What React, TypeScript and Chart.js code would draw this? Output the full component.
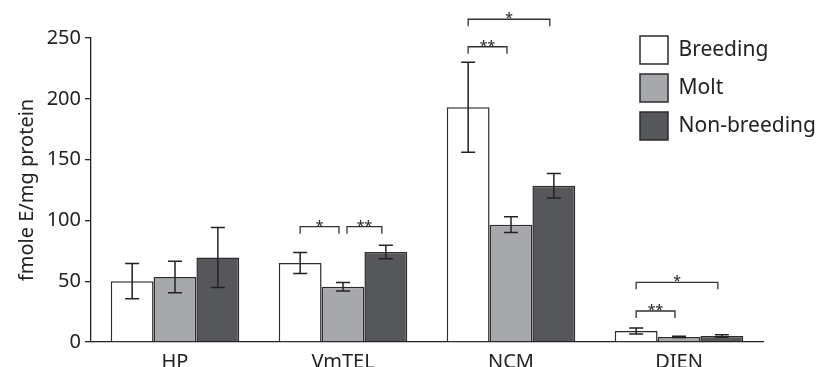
import React, { useEffect, useRef } from "react";
import { Chart, registerables } from "chart.js";

Chart.register(...registerables);

const categories = ["HP", "VmTEL", "NCM", "DIEN"];
const seriesNames = ["Breeding", "Molt", "Non-breeding"];
const breeding = [50, 65, 193, 9];
const breedingErr = [14.5, 8.7, 37, 2.5];
const molt = [53.5, 45.5, 96.5, 4.2];
const moltErr = [13, 3.5, 6.5, 0.5];
const nonBreeding = [69.5, 74, 128.5, 5];
const nonBreedingErr = [24.7, 5.5, 10, 1];
const yTicks = [0, 50, 100, 150, 200, 250];
const yTitle = "fmole E/mg protein";

// significance brackets
const sigCategory = [1, 1, 2, 2, 3, 3];
const sigFrom = [0, 1, 0, 0, 0, 0];
const sigTo = [1, 2, 1, 2, 1, 2];
const sigLevel = [94.8, 94.8, 242.8, 265.4, 25.5, 49.1];
const sigLabel = ["*", "**", "**", "*", "**", "*"];

const FONT = "'Noto Sans', 'DejaVu Sans', sans-serif";
const INK = "#222222";

const values = [breeding, molt, nonBreeding];
const errors = [breedingErr, moltErr, nonBreedingErr];
const fills = ["#ffffff", "#a7a8ab", "#56575a"];

const errorBarPlugin = {
  id: "errorBars",
  afterDatasetsDraw(chart: any) {
    const { ctx } = chart;
    const y = chart.scales.y;
    ctx.save();
    ctx.strokeStyle = INK;
    ctx.lineWidth = 1.5;
    errors.forEach((errs, di) => {
      const meta = chart.getDatasetMeta(di);
      meta.data.forEach((bar: any, i: number) => {
        const v = values[di][i];
        const e = errs[i];
        const x = bar.x;
        const yt = y.getPixelForValue(v + e);
        const yb = y.getPixelForValue(v - e);
        const cap = 7;
        ctx.beginPath();
        ctx.moveTo(x, yt);
        ctx.lineTo(x, yb);
        ctx.moveTo(x - cap, yt);
        ctx.lineTo(x + cap, yt);
        ctx.moveTo(x - cap, yb);
        ctx.lineTo(x + cap, yb);
        ctx.stroke();
      });
    });
    ctx.restore();
  },
};

const sigPlugin = {
  id: "sigBrackets",
  afterDatasetsDraw(chart: any) {
    const { ctx } = chart;
    const y = chart.scales.y;
    ctx.save();
    ctx.strokeStyle = "#333333";
    ctx.fillStyle = INK;
    ctx.lineWidth = 1.3;
    ctx.font = `14px ${FONT}`;
    ctx.textAlign = "center";
    ctx.textBaseline = "alphabetic";
    sigLabel.forEach((lab, k) => {
      const c = sigCategory[k];
      const xa = chart.getDatasetMeta(sigFrom[k]).data[c].x + (sigFrom[k] > 0 ? 4 : 0);
      const xb = chart.getDatasetMeta(sigTo[k]).data[c].x - 4;
      const yp = y.getPixelForValue(sigLevel[k]);
      const drop = 7;
      ctx.beginPath();
      ctx.moveTo(xa, yp + drop);
      ctx.lineTo(xa, yp);
      ctx.lineTo(xb, yp);
      ctx.lineTo(xb, yp + drop);
      ctx.stroke();
      ctx.fillText(lab, (xa + xb) / 2, yp + 4);
    });
    ctx.restore();
  },
};

const legendPlacer = {
  id: "legendPlacer",
  afterLayout(chart: any) {
    const lg = chart.legend;
    if (!lg) return;
    const ca = chart.chartArea;
    lg.left = ca.right - 133;
    lg.top = ca.top - 12;
    lg.right = chart.width;
    lg.bottom = lg.top + 140;
    lg.width = lg.right - lg.left;
    lg.height = 140;
  },
};

export default function App() {
  const ref = useRef<HTMLCanvasElement>(null);
  useEffect(() => {
    if (!ref.current) return;
    const chart = new Chart(ref.current, {
      type: "bar",
      data: {
        labels: categories,
        datasets: seriesNames.map((name, i) => ({
          label: name,
          data: values[i],
          backgroundColor: fills[i],
          borderColor: "#2b2b2b",
          borderWidth: 1.5,
          categoryPercentage: 0.765,
          barPercentage: 1,
        })),
      },
      options: {
        animation: false,
        responsive: false,
        layout: { padding: { left: 0, top: 38, right: 55, bottom: 0 } },
        plugins: {
          legend: {
            position: "chartArea" as any,
            align: "start",
            labels: {
              boxWidth: 28,
              boxHeight: 28,
              padding: 10,
              color: INK,
              font: { size: 21, family: FONT },
            },
          },
          tooltip: { enabled: false },
        },
        scales: {
          x: {
            grid: { display: false },
            border: { display: true, color: INK, width: 1.3 },
            ticks: { color: INK, font: { size: 20, family: FONT }, padding: 0 },
            afterFit(scale: any) {
              scale.height = 25;
            },
          },
          y: {
            min: 0,
            max: 250,
            afterBuildTicks(scale: any) {
              scale.ticks = yTicks.map((v) => ({ value: v }));
            },
            grid: {
              display: true,
              drawOnChartArea: false,
              drawTicks: true,
              tickLength: 6,
              color: INK,
              lineWidth: 1.3,
            },
            border: { display: true, color: INK, width: 1.3 },
            ticks: { color: INK, font: { size: 20, family: FONT }, padding: 4 },
            title: {
              display: true,
              text: yTitle,
              color: INK,
              font: { size: 20, family: FONT },
              padding: { top: 15, bottom: 0 },
            },
            afterFit(scale: any) {
              scale.width = 91;
            },
          },
        },
      },
      plugins: [errorBarPlugin, sigPlugin, legendPlacer],
    });
    return () => chart.destroy();
  }, []);
  return (
    <div style={{ position: "fixed", left: 0, top: 0, width: 818, height: 367, background: "#fff" }}>
      <canvas ref={ref} width={818} height={367} style={{ display: "block" }} />
    </div>
  );
}
